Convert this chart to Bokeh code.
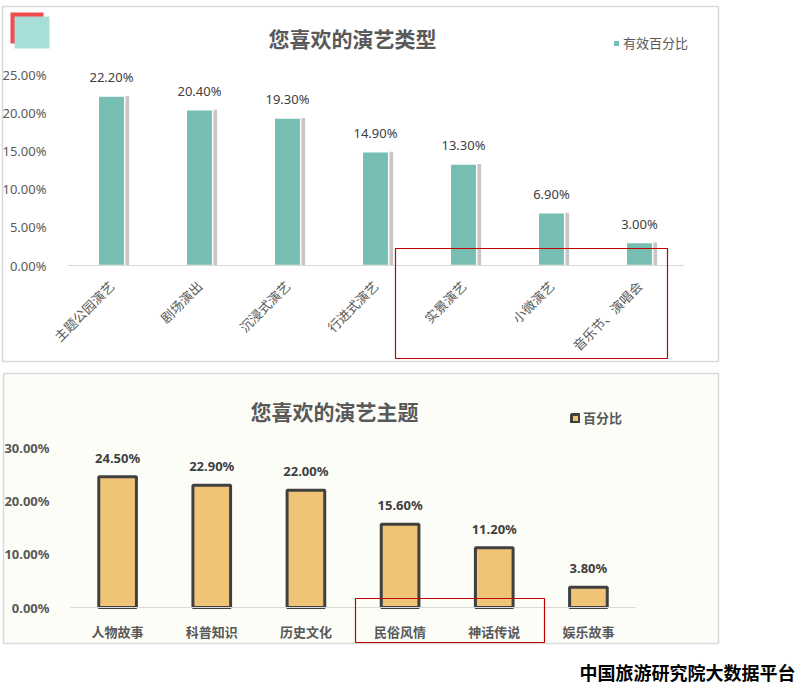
import math
from bokeh.plotting import figure
from bokeh.models import (ColumnDataSource, Range1d, NumeralTickFormatter,
                          LabelSet, Label, BoxAnnotation, Legend, LegendItem, FixedTicker)
from bokeh.layouts import column
from bokeh.transform import dodge
from bokeh.embed import file_html
from bokeh.resources import INLINE
from bokeh.core.properties import value

# ---------------- data ----------------
type_title = "您喜欢的演艺类型"
type_series = "有效百分比"
type_cats = ["主题公园演艺", "剧场演出", "沉浸式演艺", "行进式演艺", "实景演艺", "小微演艺", "音乐节、演唱会"]
type_vals = [0.222, 0.204, 0.193, 0.149, 0.133, 0.069, 0.030]
type_ticks = [0, 0.05, 0.10, 0.15, 0.20, 0.25]

theme_title = "您喜欢的演艺主题"
theme_series = "百分比"
theme_cats = ["人物故事", "科普知识", "历史文化", "民俗风情", "神话传说", "娱乐故事"]
theme_vals = [0.245, 0.229, 0.220, 0.156, 0.112, 0.038]
theme_ticks = [0, 0.10, 0.20, 0.30]

footer = "中国旅游研究院大数据平台"

# ---------------- style / layout constants ----------------
CJK = "Noto Sans CJK SC"
LAT = "Noto Sans"
GRAY = "#595959"
DARK = "#404040"
BORDER = "#d9d9d9"
CREAM = "#fdfdf8"
RED = "#c00000"
W = 802


def box(p, l, r, t, b, **kw):
    p.add_layout(BoxAnnotation(left=l, right=r, top=t, bottom=b,
                               left_units="screen", right_units="screen",
                               top_units="screen", bottom_units="screen", **kw))


def cat_figure(n, h, frame_l, frame_r, frame_top, frame_bottom, ymax):
    """Figure whose frame fills the canvas; plotting area spans pixels
    frame_l..frame_r horizontally and frame_top..frame_bottom vertically."""
    px_x = (frame_r - frame_l) / n
    px_y = (frame_bottom - frame_top) / ymax
    xr = Range1d(-0.5 - frame_l / px_x, n - 0.5 + (W - frame_r) / px_x)
    yr = Range1d(-(h - frame_bottom) / px_y, frame_bottom / px_y)
    p = figure(x_range=xr, y_range=yr, width=W, height=h, output_backend="svg",
               toolbar_location=None, min_border=0, background_fill_color="white",
               border_fill_color="white", outline_line_color=None)
    p.xgrid.grid_line_color = None
    p.ygrid.grid_line_color = None
    p.xaxis.fixed_location = 0
    p.xaxis.bounds = (-0.5, n - 0.5)
    p.yaxis.fixed_location = -0.5
    p.yaxis.bounds = (0, ymax)
    return p


# ---------------- chart 1 ----------------
H1 = 367
idx1 = list(range(len(type_cats)))
src1 = ColumnDataSource(dict(x=idx1, val=type_vals,
                             lab=[f"{v * 100:.2f}%" for v in type_vals]))
p1 = cat_figure(len(type_cats), H1, 67, 683, 74, 265, 0.25)
box(p1, 2, 718, H1 - 6, H1 - 361, fill_color="white", fill_alpha=1, line_color=BORDER,
    line_alpha=1, line_width=1.5, level="underlay")
p1.vbar(x=dodge("x", 0.05), top="val", width=0.3, source=src1,
        fill_color="#a0a0a0", fill_alpha=0.6, line_color=None)
bars1 = p1.vbar(x="x", top="val", width=0.3, source=src1,
                fill_color="#76bdb3", line_color="white", line_width=1.5)
p1.add_layout(LabelSet(x="x", y="val", text="lab", source=src1, text_align="center",
                       text_baseline="bottom", y_offset=10, text_font=value(LAT),
                       text_font_size="13px", text_color=DARK))
p1.yaxis.ticker = FixedTicker(ticks=type_ticks)
p1.yaxis.formatter = NumeralTickFormatter(format="0.00%")
p1.yaxis.axis_line_color = None
p1.yaxis.major_tick_line_color = None
p1.yaxis.minor_tick_line_color = None
p1.yaxis.major_label_standoff = 15
p1.yaxis.major_label_text_font = LAT
p1.yaxis.major_label_text_font_size = "13px"
p1.yaxis.major_label_text_color = GRAY
p1.xaxis.ticker = FixedTicker(ticks=idx1)
p1.xaxis.major_label_overrides = {i: c for i, c in zip(idx1, type_cats)}
p1.xaxis.axis_line_color = BORDER
p1.xaxis.major_tick_line_color = None
p1.xaxis.minor_tick_line_color = None
p1.xaxis.major_label_orientation = math.pi / 4
p1.xaxis.major_label_standoff = 12
p1.xaxis.major_label_text_font = CJK
p1.xaxis.major_label_text_font_size = "13px"
p1.xaxis.major_label_text_color = GRAY

p1.add_layout(Label(x=352, y=H1 - 37, x_units="screen", y_units="screen", text=type_title,
                    text_align="center", text_baseline="middle", text_font=CJK,
                    text_font_style="bold", text_font_size="21px", text_color=GRAY))
box(p1, 10, 43, H1 - 12, H1 - 43, fill_color="#f24b4b", fill_alpha=1, line_color=None)
box(p1, 14, 49, H1 - 16, H1 - 48, fill_color="#a8ded8", fill_alpha=1, line_color=None)
box(p1, 395, 667, H1 - 248, H1 - 358, fill_alpha=0, line_color=RED, line_alpha=1,
    line_width=1.2)
leg1 = Legend(items=[LegendItem(label=type_series, renderers=[bars1])],
              location=(612, H1 - 52), orientation="horizontal", padding=0, margin=0,
              spacing=0, glyph_width=8, glyph_height=8, label_standoff=3,
              label_text_font=CJK, label_text_font_size="13px", label_text_color=GRAY,
              border_line_color=None, background_fill_alpha=0)
p1.add_layout(leg1)

# ---------------- chart 2 ----------------
H2 = 689 - H1
T2 = H1  # page offset of chart 2
idx2 = list(range(len(theme_cats)))
src2 = ColumnDataSource(dict(x=idx2, val=theme_vals,
                             lab=[f"{v * 100:.2f}%" for v in theme_vals]))
p2 = cat_figure(len(theme_cats), H2, 70, 635, 447 - T2, 607 - T2, 0.30)
box(p2, 3, 718, H2 - (373 - T2), H2 - (643 - T2), fill_color=CREAM, fill_alpha=1,
    line_color=BORDER, line_alpha=1, line_width=1.5, level="underlay")
bars2 = p2.vbar(x="x", top="val", width=0.4, source=src2,
                fill_color="#f0c477", line_color=DARK, line_width=3)
p2.add_layout(LabelSet(x="x", y="val", text="lab", source=src2, text_align="center",
                       text_baseline="bottom", y_offset=10, text_font=value(LAT),
                       text_font_style="bold", text_font_size="13px", text_color=DARK))
p2.ygrid.grid_line_color = BORDER
p2.ygrid.ticker = FixedTicker(ticks=theme_ticks)
p2.ygrid.cross_bounds = (-0.5, len(theme_cats) - 0.5)
p2.ygrid.level = "underlay"
p2.yaxis.ticker = FixedTicker(ticks=theme_ticks)
p2.yaxis.formatter = NumeralTickFormatter(format="0.00%")
p2.yaxis.axis_line_color = None
p2.yaxis.major_tick_line_color = None
p2.yaxis.minor_tick_line_color = None
p2.yaxis.major_label_standoff = 15
p2.yaxis.major_label_text_font = LAT
p2.yaxis.major_label_text_font_style = "bold"
p2.yaxis.major_label_text_font_size = "13px"
p2.yaxis.major_label_text_color = GRAY
p2.xaxis.ticker = FixedTicker(ticks=idx2)
p2.xaxis.major_label_overrides = {i: c for i, c in zip(idx2, theme_cats)}
p2.xaxis.axis_line_color = BORDER
p2.xaxis.major_tick_line_color = None
p2.xaxis.minor_tick_line_color = None
p2.xaxis.major_label_standoff = 8
p2.xaxis.major_label_text_font = CJK
p2.xaxis.major_label_text_font_style = "bold"
p2.xaxis.major_label_text_font_size = "13px"
p2.xaxis.major_label_text_color = GRAY

p2.add_layout(Label(x=334, y=H2 - (410 - T2), x_units="screen", y_units="screen",
                    text=theme_title, text_align="center", text_baseline="middle",
                    text_font=CJK, text_font_style="bold", text_font_size="21px",
                    text_color=GRAY))
box(p2, 355, 544, H2 - (598 - T2), H2 - (642 - T2), fill_alpha=0, line_color=RED,
    line_alpha=1, line_width=1.2)
leg2 = Legend(items=[LegendItem(label=theme_series, renderers=[bars2])],
              location=(570, H2 - (427 - T2)), orientation="horizontal", padding=0,
              margin=0, spacing=0, glyph_width=10, glyph_height=10, label_standoff=3,
              label_text_font=CJK, label_text_font_size="13px", label_text_font_style="bold",
              label_text_color=GRAY, border_line_color=None, background_fill_alpha=0)
p2.add_layout(leg2)
p2.add_layout(Label(x=795, y=H2 - (671 - T2), x_units="screen", y_units="screen",
                    text=footer, text_align="right", text_baseline="middle", text_font=CJK,
                    text_font_style="bold", text_font_size="18px", text_color="#000000"))

layout = column(p1, p2, spacing=0)
open("out.html", "w").write(file_html(layout, INLINE))
